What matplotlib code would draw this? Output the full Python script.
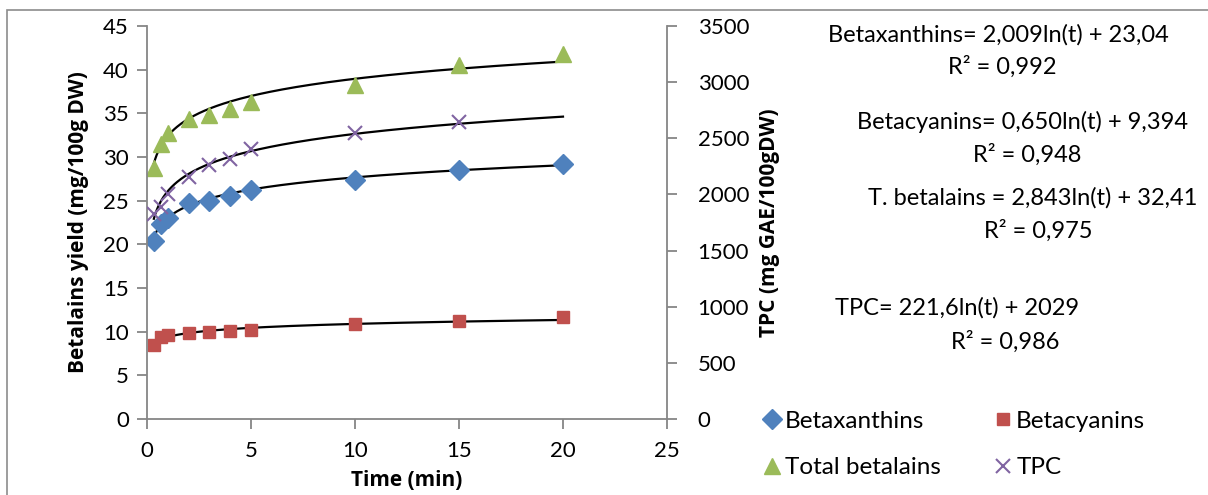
import numpy as np
import matplotlib
matplotlib.use("Agg")
import matplotlib.pyplot as plt
from matplotlib.patches import Rectangle

plt.rcParams['font.family'] = ['Lato', 'DejaVu Sans']

# ---- data ----
time_min = [0.33, 0.67, 1, 2, 3, 4, 5, 10, 15, 20]
betaxanthins = [20.4, 22.35, 23.0, 24.7, 24.95, 25.5, 26.2, 27.4, 28.5, 29.25]
betacyanins = [8.46, 9.4, 9.64, 9.8, 9.95, 10.07, 10.2, 10.87, 11.17, 11.63]
total_betalains = [28.7, 31.5, 32.7, 34.4, 34.8, 35.5, 36.3, 38.2, 40.5, 41.8]
tpc = [1828, 1887, 2006, 2155, 2259, 2318, 2408, 2548, 2646, np.nan]

# log-fit coefficients (a*ln(t) + b) as given in the chart
fit_bx = (2.009, 23.04)
fit_bc = (0.650, 9.394)
fit_tb = (2.843, 32.41)
fit_tpc = (221.6, 2029)

x_ticks = [0, 5, 10, 15, 20, 25]
y_left_ticks = [0, 5, 10, 15, 20, 25, 30, 35, 40, 45]
y_right_ticks = [0, 500, 1000, 1500, 2000, 2500, 3000, 3500]

W, H = 1208, 495
fig = plt.figure(figsize=(W / 100, H / 100), dpi=100)

# outer chart border (cropped at right/bottom)
fig.patches.append(Rectangle((7 / W, -0.1), 1.2, (H - 10) / H + 0.1,
                             transform=fig.transFigure, fill=False,
                             edgecolor='#8c8c8c', lw=1.2))

ax = fig.add_axes([147 / W, (H - 419) / H, (667 - 147) / W, (419 - 26) / H])
ax2 = ax.twinx()

gray = '#868686'
blue, red, green, purple = '#4F81BD', '#C0504D', '#9BBB59', '#8064A2'

t = np.array(time_min, dtype=float)
tt = np.linspace(t.min(), t.max(), 300)

h_bx, = ax.plot(t, betaxanthins, ls='none', marker='D', ms=10, color=blue, label='Betaxanthins')
h_bc, = ax.plot(t, betacyanins, ls='none', marker='s', ms=8.5, color=red, label='Betacyanins')
h_tb, = ax.plot(t, total_betalains, ls='none', marker='^', ms=11, color=green, label='Total betalains')
h_tpc, = ax2.plot(t, tpc, ls='none', marker='x', ms=10, mew=1.5, color=purple, label='TPC')

for (a, b) in (fit_bx, fit_bc, fit_tb):
    ax.plot(tt, a * np.log(tt) + b, color='black', lw=1.6, zorder=1)
a, b = fit_tpc
ax2.plot(tt, a * np.log(tt) + b, color='black', lw=1.6, zorder=1)

ax.set_xlim(0, 25)
ax.set_ylim(0, 45)
ax2.set_ylim(0, 3500)
ax.set_xticks(x_ticks)
ax.set_yticks(y_left_ticks)
ax2.set_yticks(y_right_ticks)

for a_ in (ax, ax2):
    for s in a_.spines.values():
        s.set_color(gray)
        s.set_linewidth(1.3)
    a_.spines['top'].set_visible(False)
    a_.tick_params(colors=gray, labelcolor='black', labelsize=16, length=7, width=1.3, direction='out')
ax.spines['right'].set_visible(False)
ax2.spines['left'].set_visible(False)
ax2.spines['bottom'].set_visible(False)
ax.tick_params(axis='x', pad=9)
ax.tick_params(axis='y', pad=6)
ax2.tick_params(axis='y', pad=15)

bold = dict(fontsize=15, fontweight='bold', family=['Open Sans', 'DejaVu Sans'])
ax.set_xlabel('Time (min)', labelpad=6, **bold)
ax.set_ylabel('Betalains yield (mg/100g DW)', labelpad=10, **bold)
ax2.set_ylabel('TPC (mg GAE/100gDW)', labelpad=7, **bold)

fig.legend(handles=[h_bx, h_tb, h_bc, h_tpc], ncol=2, frameon=False,
           loc='upper left', bbox_to_anchor=(740 / W, (H - 389) / H),
           fontsize=17.5, handlelength=0.8, handletextpad=0.15,
           columnspacing=2.15, labelspacing=1.05)

def ftxt(x, y, s, ha='left'):
    fig.text(x / W, (H - y) / H, s, ha=ha, va='center', fontsize=17)

ftxt(828, 35, 'Betaxanthins= 2,009ln(t) + 23,04')
ftxt(1002, 67, 'R² = 0,992', ha='center')
ftxt(857, 122, 'Betacyanins= 0,650ln(t) + 9,394')
ftxt(1027, 155, 'R² = 0,948', ha='center')
ftxt(868, 198, 'T. betalains = 2,843ln(t) + 32,41')
ftxt(1038, 231, 'R² = 0,975', ha='center')
ftxt(835, 308, 'TPC= 221,6ln(t) + 2029')
ftxt(1005, 342, 'R² = 0,986', ha='center')

fig.savefig('out.png', dpi=100)
